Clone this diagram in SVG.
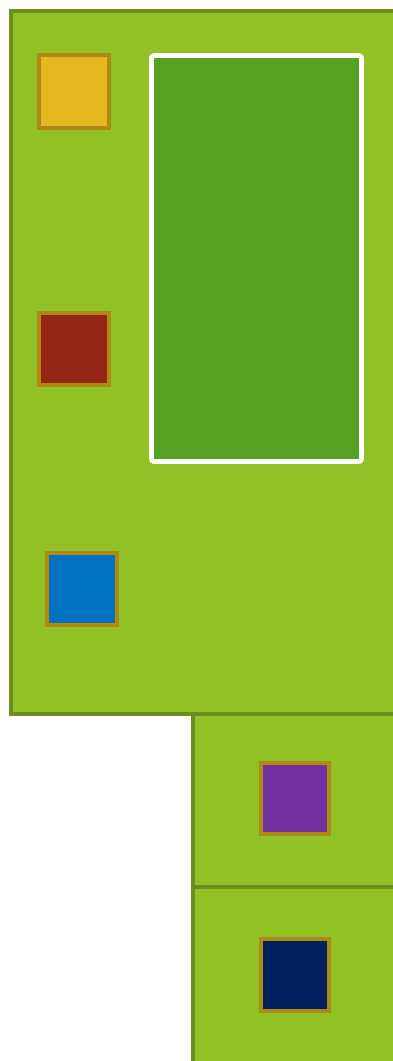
<svg xmlns="http://www.w3.org/2000/svg" width="393" height="1061" viewBox="0 0 393 1061">
<style>
.panel{fill:#92C125;stroke:#6B8E1E;stroke-width:4}
.sq{stroke:#AD8A16;stroke-width:4}
</style>
<rect x="0" y="0" width="393" height="1061" fill="#FFFFFF"/>
<g id="panel-main"><rect class="panel" x="11" y="11" width="460" height="703"/></g>
<g id="panel-2"><rect class="panel" x="193" y="714" width="260" height="173"/></g>
<g id="panel-3"><rect class="panel" x="193" y="887" width="260" height="200"/></g>
<g id="inner-box"><rect x="151.5" y="55.5" width="210" height="406" rx="3" fill="#56A024" stroke="#FFFFFF" stroke-width="5"/></g>
<g id="node-yellow"><rect class="sq" x="39" y="55" width="70" height="73" fill="#E6B820"/></g>
<g id="node-red"><rect class="sq" x="39" y="313" width="70" height="72" fill="#952514"/></g>
<g id="node-blue"><rect class="sq" x="47" y="553" width="70" height="72" fill="#0072C0"/></g>
<g id="node-purple"><rect class="sq" x="261" y="763" width="68" height="71" fill="#7330A0"/></g>
<g id="node-navy"><rect class="sq" x="261" y="939" width="68" height="72" fill="#00215E"/></g>
<g id="connectors"></g>
</svg>
